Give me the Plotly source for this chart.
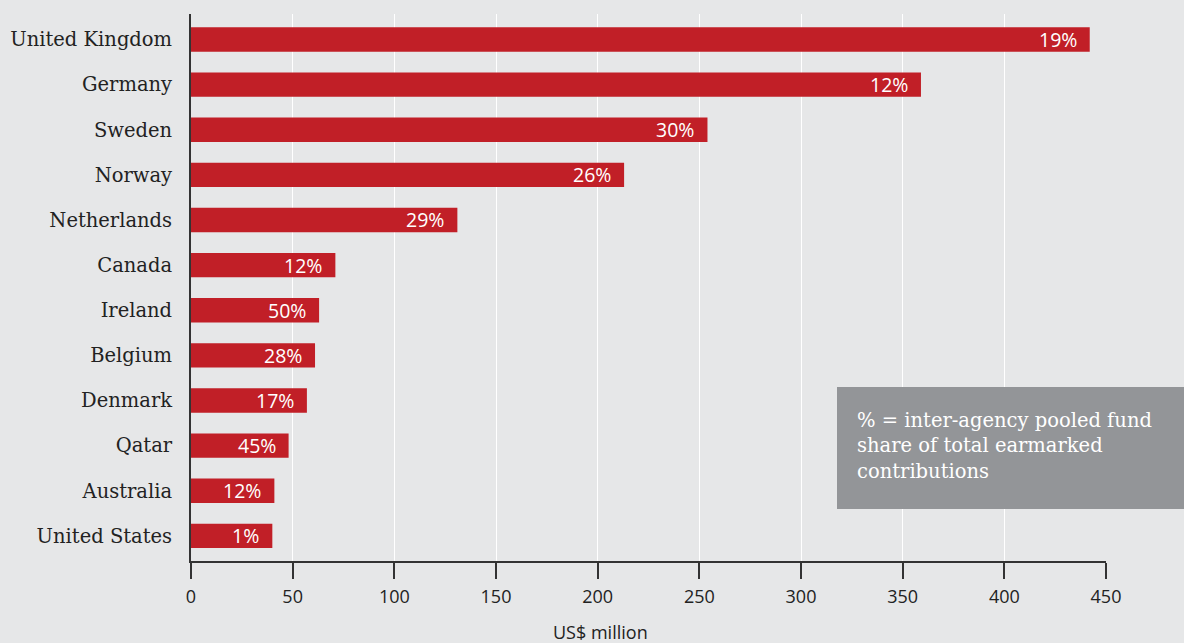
import plotly.graph_objects as go

# Donors and their earmarked contributions (US$ million)
donors = ["United Kingdom", "Germany", "Sweden", "Norway", "Netherlands", "Canada",
          "Ireland", "Belgium", "Denmark", "Qatar", "Australia", "United States"]
contributions = [442, 359, 254, 213, 131, 71, 63, 61, 57, 48, 41, 40]
# Inter-agency pooled fund share of total earmarked contributions
pooled_share = ["19%", "12%", "30%", "26%", "29%", "12%", "50%", "28%", "17%", "45%", "12%", "1%"]
x_ticks = [0, 50, 100, 150, 200, 250, 300, 350, 400, 450]

BG = "#e6e7e8"
RED = "#c11f27"
AXIS = "#333333"

fig = go.Figure()
fig.add_trace(go.Bar(
    x=contributions, y=donors, orientation="h",
    marker=dict(color=RED, line=dict(width=0)),
    width=0.54, hoverinfo="skip",
))

# Share labels at the inside end of each bar
for d, v, s in zip(donors, contributions, pooled_share):
    fig.add_annotation(x=v, y=d, text=s, showarrow=False, xanchor="right",
                       xshift=-11, yshift=0,
                       font=dict(family="Open Sans", size=19.5, color="white"))

# Explanatory note box
fig.add_shape(type="rect", xref="paper", yref="paper",
              x0=(837 - 191) / 915, x1=(1184 - 191) / 915,
              y0=(561 - 509) / 547, y1=(561 - 387) / 547,
              fillcolor="#939598", line=dict(width=0), layer="above")
fig.add_annotation(xref="paper", yref="paper",
                   x=(855 - 191) / 915, y=(561 - 407) / 547,
                   xanchor="left", yanchor="top", align="left", showarrow=False,
                   text="% = inter-agency pooled fund<br>share of total earmarked<br>contributions",
                   font=dict(family="DejaVu Serif", size=19.5, color="white"))

# Axis title
fig.add_annotation(xref="paper", yref="paper", x=(600 - 191) / 915, y=-(632 - 561) / 547,
                   xanchor="center", yanchor="middle", showarrow=False,
                   text="US$ million",
                   font=dict(family="Open Sans", size=18, color="#222222"))

fig.update_layout(
    width=1184, height=643,
    margin=dict(l=191, r=78, t=14, b=82, autoexpand=False),
    paper_bgcolor=BG, plot_bgcolor=BG,
    showlegend=False,
    xaxis=dict(
        range=[0, 450], tickvals=x_ticks, ticktext=[str(t) for t in x_ticks],
        showgrid=True, gridcolor="white", gridwidth=1.2,
        zeroline=False, showline=True, linecolor=AXIS, linewidth=2,
        ticks="outside", ticklen=16, tickwidth=2, tickcolor=AXIS,
        ticklabelstandoff=2, automargin=False,
        tickfont=dict(family="Open Sans", size=18, color="#222222"),
    ),
    yaxis=dict(
        type="category", categoryorder="array", categoryarray=donors,
        range=[11.558, -0.565], automargin=False,
        showgrid=False, zeroline=False, showline=True, linecolor=AXIS, linewidth=2,
        ticks="", ticklabelstandoff=13,
        tickfont=dict(family="DejaVu Serif", size=19.5, color="#222222"),
    ),
)

fig.write_html("out.html")
